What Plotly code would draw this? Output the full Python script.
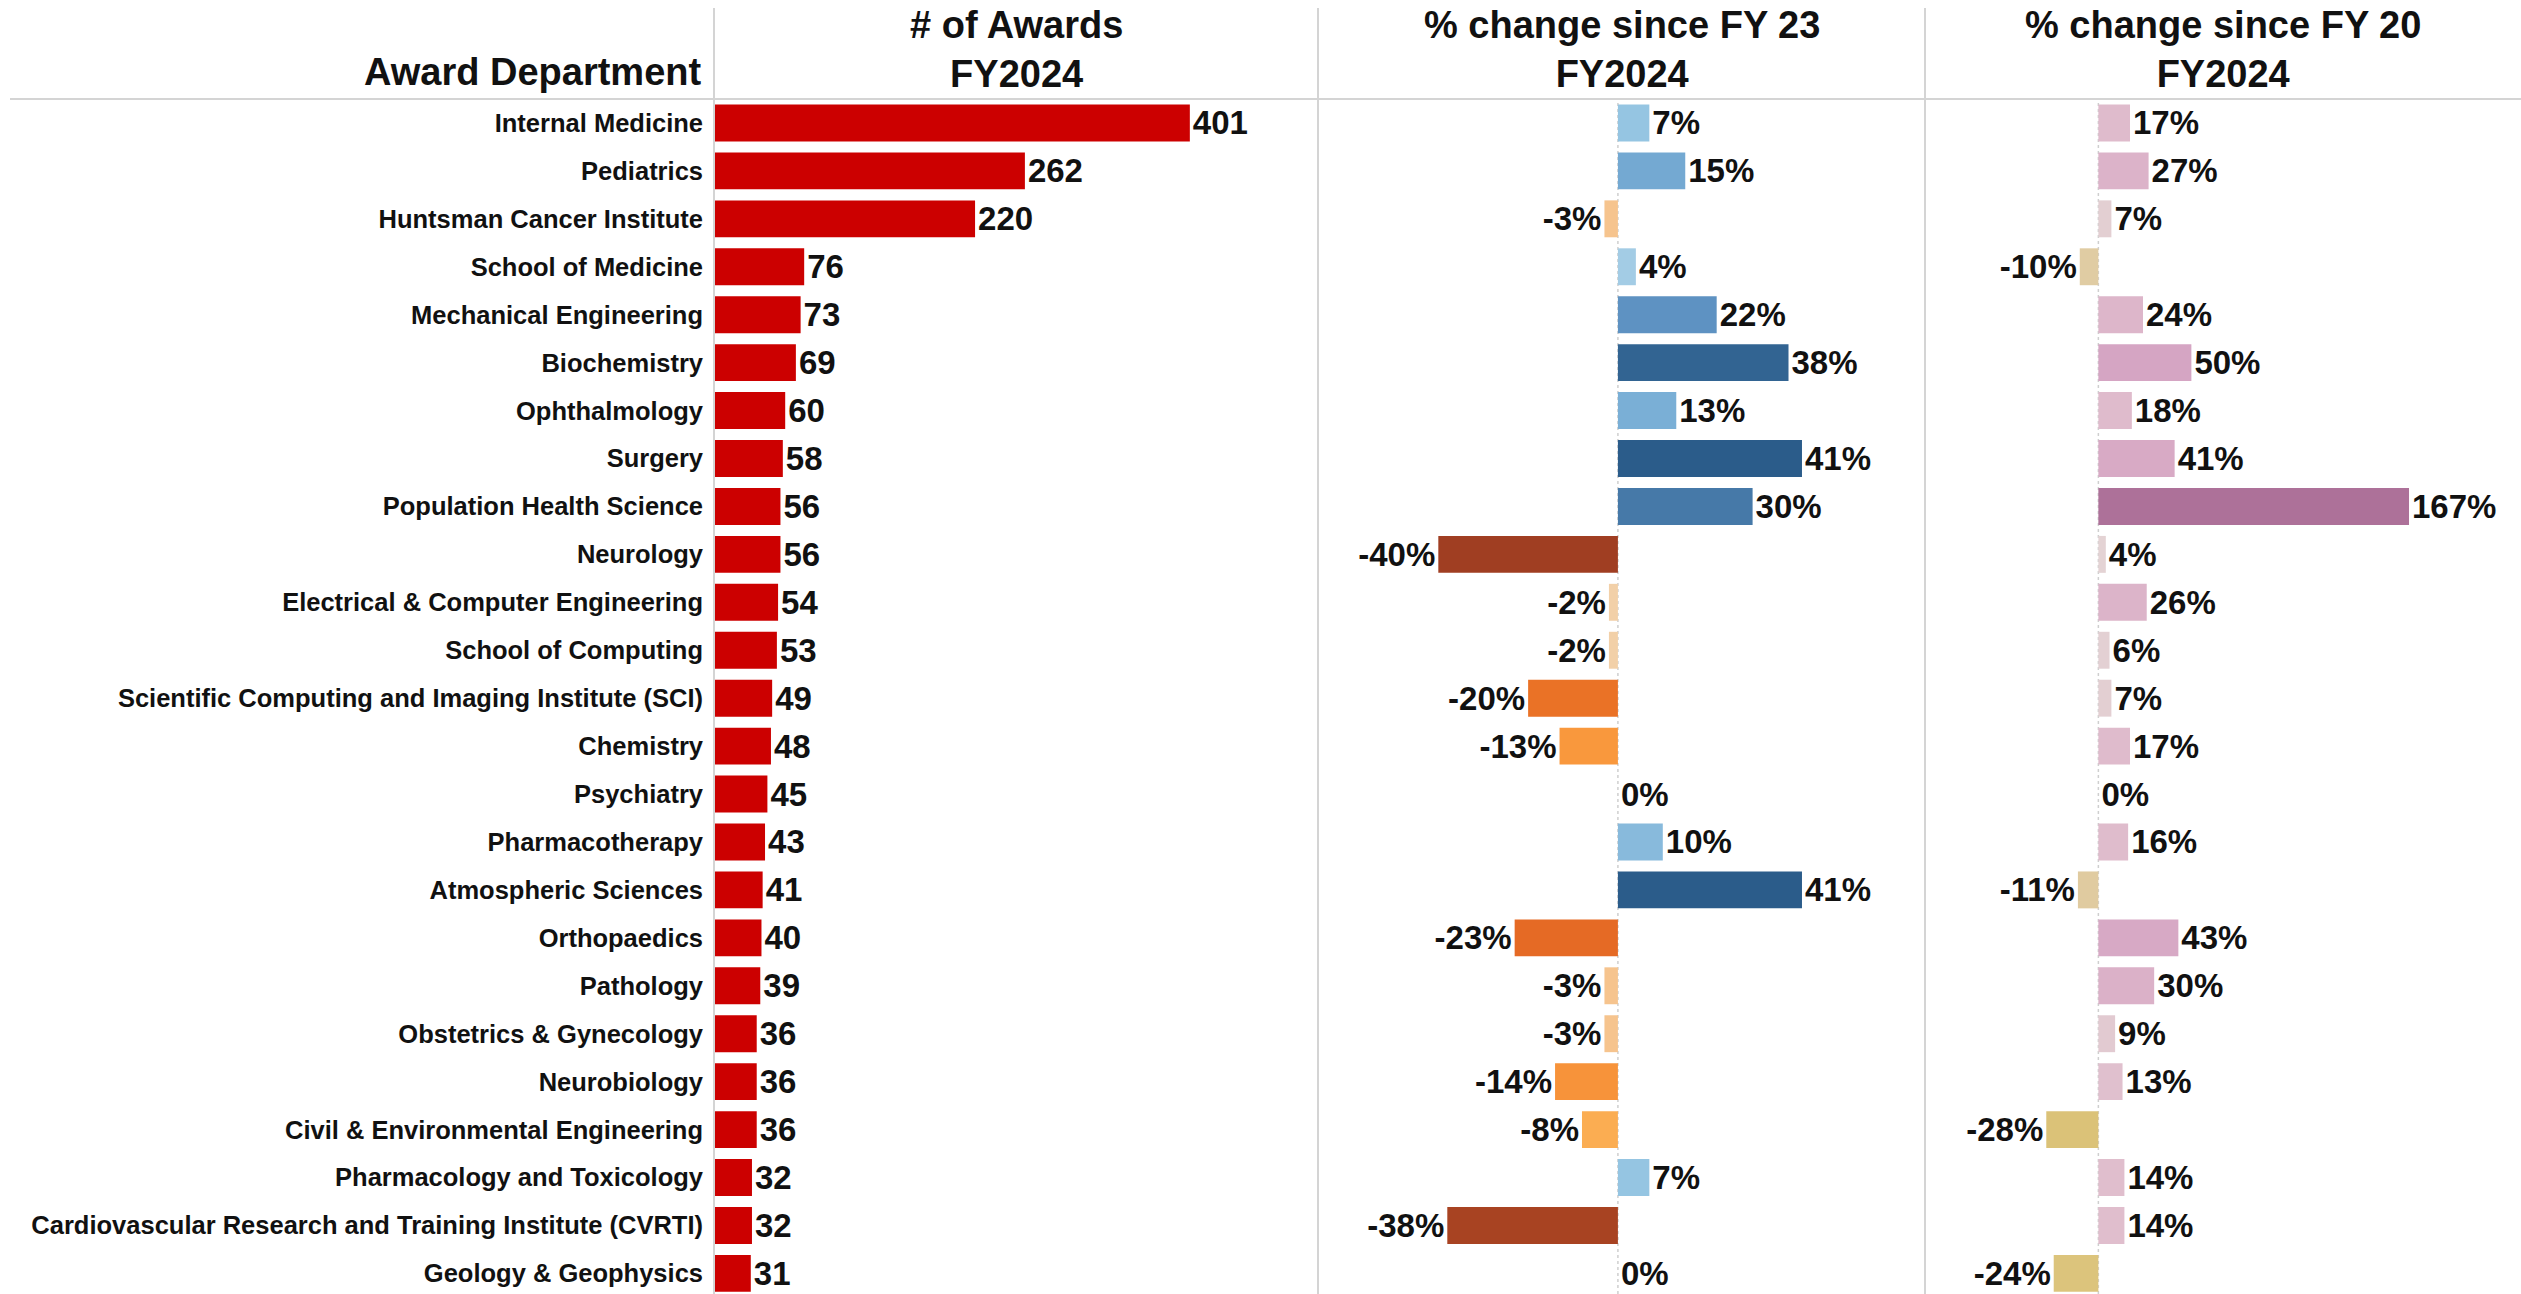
import plotly.graph_objects as go

departments = [
    "Internal Medicine", "Pediatrics", "Huntsman Cancer Institute", "School of Medicine",
    "Mechanical Engineering", "Biochemistry", "Ophthalmology", "Surgery",
    "Population Health Science", "Neurology", "Electrical & Computer Engineering",
    "School of Computing", "Scientific Computing and Imaging Institute (SCI)", "Chemistry",
    "Psychiatry", "Pharmacotherapy", "Atmospheric Sciences", "Orthopaedics", "Pathology",
    "Obstetrics & Gynecology", "Neurobiology", "Civil & Environmental Engineering",
    "Pharmacology and Toxicology", "Cardiovascular Research and Training Institute (CVRTI)",
    "Geology & Geophysics",
]
awards_fy24 = [401, 262, 220, 76, 73, 69, 60, 58, 56, 56, 54, 53, 49, 48, 45, 43, 41, 40, 39, 36, 36, 36, 32, 32, 31]
chg_since_fy23 = [7, 15, -3, 4, 22, 38, 13, 41, 30, -40, -2, -2, -20, -13, 0, 10, 41, -23, -3, -3, -14, -8, 7, -38, 0]
chg_since_fy20 = [17, 27, 7, -10, 24, 50, 18, 41, 167, 4, 26, 6, 7, 17, 0, 16, -11, 43, 30, 9, 13, -28, 14, 14, -24]

header_left = "Award Department"
headers = ["# of Awards<br>FY2024", "% change since FY 23<br>FY2024", "% change since FY 20<br>FY2024"]

W, H = 2521, 1294
FONT = "Liberation Sans, Arial, sans-serif"


def interp(stops, v):
    v = abs(v)
    if v <= stops[0][0]:
        c = stops[0][1]
    elif v >= stops[-1][0]:
        c = stops[-1][1]
    else:
        for (a, ca), (b, cb) in zip(stops, stops[1:]):
            if a <= v <= b:
                t = (v - a) / (b - a)
                c = tuple(ca[i] + (cb[i] - ca[i]) * t for i in range(3))
                break
    return "rgb(%d,%d,%d)" % tuple(round(x) for x in c)


def hx(s):
    return (int(s[1:3], 16), int(s[3:5], 16), int(s[5:7], 16))


pos23 = [(0, hx("#b5d5ea")), (7, hx("#95c5e2")), (13, hx("#7aafd6")), (22, hx("#5e92c2")),
         (30, hx("#4679a8")), (41, hx("#2b5c8a"))]
neg23 = [(0, hx("#f3d9bb")), (2, hx("#f2d0a8")), (3, hx("#f6c48e")), (8, hx("#fbad52")),
         (13, hx("#f9983d")), (20, hx("#ea7226")), (23, hx("#e56a25")), (40, hx("#a03e22"))]
pos20 = [(0, hx("#e5d8d6")), (7, hx("#e3cfd2")), (14, hx("#e0becd")), (27, hx("#dcb3c9")),
         (50, hx("#d5a5c3")), (167, hx("#ad7199"))]
neg20 = [(0, hx("#e5dbc5")), (10, hx("#e0cca3")), (24, hx("#dcc47c")), (28, hx("#dbc278"))]

col23 = [interp(pos23 if v >= 0 else neg23, v) for v in chg_since_fy23]
col20 = [interp(pos20 if v >= 0 else neg20, v) for v in chg_since_fy20]

ypos = list(range(len(departments)))
label_font = dict(family=FONT, size=33, color="#111111", weight="bold")

fig = go.Figure()
fig.add_trace(go.Bar(
    y=ypos, x=awards_fy24, orientation="h", xaxis="x", yaxis="y",
    marker=dict(color="#cc0000", line=dict(width=0)),
    text=[str(v) for v in awards_fy24], textposition="outside", cliponaxis=False,
    constraintext="none", textfont=label_font, hoverinfo="skip",
))
fig.add_trace(go.Bar(
    y=ypos, x=chg_since_fy23, orientation="h", xaxis="x2", yaxis="y",
    marker=dict(color=col23, line=dict(width=0)),
    text=[f"{v}%" for v in chg_since_fy23], textposition="outside", cliponaxis=False,
    constraintext="none", textfont=label_font, hoverinfo="skip",
))
fig.add_trace(go.Bar(
    y=ypos, x=chg_since_fy20, orientation="h", xaxis="x3", yaxis="y",
    marker=dict(color=col20, line=dict(width=0)),
    text=[f"{v}%" for v in chg_since_fy20], textposition="outside", cliponaxis=False,
    constraintext="none", textfont=label_font, hoverinfo="skip",
))

b1, b2, b3 = 714 / W, 1318 / W, 1925 / W
top = 1 - 99 / H

ax_common = dict(showgrid=False, zeroline=False, showticklabels=False, ticks="", showline=False, fixedrange=True)
fig.update_layout(
    width=W, height=H, margin=dict(l=0, r=0, t=0, b=0),
    paper_bgcolor="white", plot_bgcolor="white", showlegend=False,
    bargap=0.23,
    xaxis=dict(domain=[b1, b2], range=[0, 509], anchor="y", **ax_common),
    xaxis2=dict(domain=[b2, b3], range=[-66.8, 68.4], anchor="y", **ax_common),
    xaxis3=dict(domain=[b3, 1], range=[-93.2, 227.2], anchor="y", **ax_common),
    yaxis=dict(domain=[0, top], range=[24.43, -0.5], anchor="x",
               tickmode="array", tickvals=ypos, ticktext=departments,
               ticks="", ticklabelstandoff=10, showgrid=False, zeroline=False, showline=False,
               tickfont=dict(family=FONT, size=25.5, color="#111111", weight="bold"),
               fixedrange=True),
)

shapes = []
line_col = "#d4d4d4"
for xp in (b1, b2, b3):
    shapes.append(dict(type="line", xref="paper", yref="paper", x0=xp, x1=xp, y0=0, y1=1 - 8 / H,
                       line=dict(color=line_col, width=2)))
shapes.append(dict(type="line", xref="paper", yref="paper", x0=10 / W, x1=1, y0=top, y1=top,
                   line=dict(color=line_col, width=2)))
for xr in ("x2", "x3"):
    shapes.append(dict(type="line", xref=xr, yref="paper", x0=0, x1=0, y0=0, y1=top,
                       line=dict(color="#cfcfcf", width=1.5, dash="dot"), layer="below"))
fig.update_layout(shapes=shapes)

hfont = dict(family=FONT, size=38, color="#111111", weight="bold")
ann = [dict(xref="paper", yref="paper", x=704 / W, y=1 - 72 / H, text=header_left,
            showarrow=False, xanchor="right", yanchor="middle", font=hfont)]
for (x0, x1), t in zip([(b1, b2), (b2, b3), (b3, 1)], headers):
    ann.append(dict(xref="paper", yref="paper", x=(x0 + x1) / 2, y=1 - 50 / H, text=t,
                    showarrow=False, xanchor="center", yanchor="middle", font=hfont))
fig.update_layout(annotations=ann)

fig.write_html("out.html", config={"displayModeBar": False},
               post_script="document.body.style.margin='0';document.body.style.overflow='hidden';")
